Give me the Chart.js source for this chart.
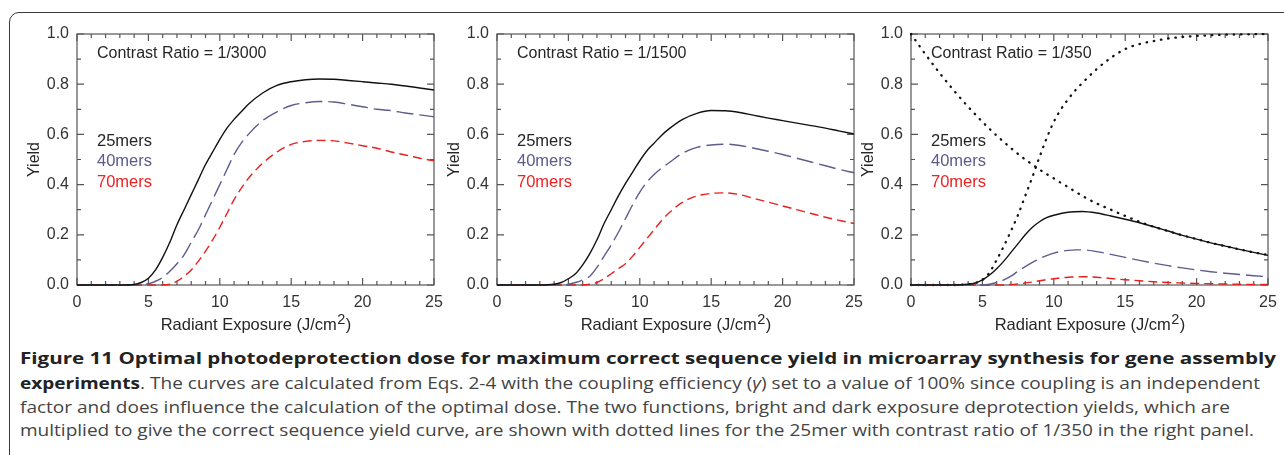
<!DOCTYPE html>
<html>
<head>
<meta charset="utf-8">
<script src="https://cdn.jsdelivr.net/npm/chart.js@4.4.1/dist/chart.umd.min.js"></script>
<style>
  body { margin: 0; background: #fff; width: 1284px; height: 455px; overflow: hidden; position: relative; }
  .frame { position: absolute; left: 9px; top: 12px; width: 1320px; height: 470px; border: 1.5px solid #3a3a3a; border-radius: 10px; }
  .panel { position: absolute; top: 22px; height: 318px; }
  .cap { position: absolute; left: 20px; white-space: nowrap; font-family: "Open Sans", "Noto Sans", sans-serif; font-size: 16px; color: #444; transform-origin: 0 50%; line-height: 20px; }
  .cap b { color: #222; }
</style>
</head>
<body>
<div class="frame"></div>
<canvas id="c1" class="panel" width="432" height="318" style="left:14px"></canvas>
<canvas id="c2" class="panel" width="432" height="318" style="left:434px"></canvas>
<canvas id="c3" class="panel" width="432" height="318" style="left:848px"></canvas>

<div class="cap" id="l1" style="top:348px"><b>Figure 11 Optimal photodeprotection dose for maximum correct sequence yield in microarray synthesis for gene assembly</b></div>
<div class="cap" id="l2" style="top:373px"><b>experiments</b>. The curves are calculated from Eqs. 2-4 with the coupling efficiency (<i>γ</i>) set to a value of 100% since coupling is an independent</div>
<div class="cap" id="l3" style="top:397px">factor and does influence the calculation of the optimal dose. The two functions, bright and dark exposure deprotection yields, which are</div>
<div class="cap" id="l4" style="top:420px">multiplied to give the correct sequence yield curve, are shown with dotted lines for the 25mer with contrast ratio of 1/350 in the right panel.</div>

<script>
// ===== Data =====
const exposure = [0, 1, 2, 3, 4, 4.5, 5, 5.5, 6, 6.5, 7, 7.5, 8, 8.5, 9, 9.5, 10, 10.5, 11, 11.5, 12,
                  13, 14, 15, 16, 17, 18, 19, 20, 21, 22, 23, 24, 25];
const xTicks = [0, 5, 10, 15, 20, 25];
const yTicks = [0, 0.2, 0.4, 0.6, 0.8, 1.0];
const seriesNames = ['25mers', '40mers', '70mers'];

// Contrast ratio 1/3000
const cr3000_25 = [0, 0, 0, 0, 0.002, 0.01, 0.027, 0.06, 0.11, 0.17, 0.24, 0.30, 0.36, 0.42, 0.48, 0.53, 0.58, 0.625, 0.66, 0.69, 0.72,
                   0.765, 0.795, 0.81, 0.818, 0.821, 0.82, 0.815, 0.81, 0.805, 0.80, 0.793, 0.785, 0.777];
const cr3000_40 = [0, 0, 0, 0, 0, 0, 0.005, 0.015, 0.03, 0.055, 0.085, 0.12, 0.17, 0.22, 0.28, 0.34, 0.40, 0.46, 0.52, 0.565, 0.60,
                   0.655, 0.69, 0.715, 0.726, 0.731, 0.729, 0.72, 0.71, 0.70, 0.695, 0.685, 0.678, 0.67];
const cr3000_70 = [0, 0, 0, 0, 0, 0, 0, 0, 0, 0.003, 0.015, 0.035, 0.06, 0.095, 0.135, 0.18, 0.23, 0.285, 0.34, 0.385, 0.425,
                   0.485, 0.53, 0.56, 0.572, 0.576, 0.574, 0.565, 0.555, 0.545, 0.53, 0.518, 0.505, 0.495];

// Contrast ratio 1/1500
const cr1500_25 = [0, 0, 0, 0, 0.003, 0.01, 0.025, 0.045, 0.08, 0.125, 0.18, 0.245, 0.30, 0.355, 0.405, 0.45, 0.495, 0.535, 0.565, 0.595, 0.62,
                   0.66, 0.684, 0.695, 0.694, 0.687, 0.676, 0.665, 0.655, 0.645, 0.635, 0.625, 0.613, 0.602];
const cr1500_40 = [0, 0, 0, 0, 0, 0, 0.003, 0.01, 0.02, 0.035, 0.07, 0.115, 0.16, 0.21, 0.265, 0.32, 0.37, 0.41, 0.44, 0.465, 0.485,
                   0.525, 0.548, 0.558, 0.561, 0.556, 0.545, 0.533, 0.52, 0.505, 0.49, 0.475, 0.46, 0.447];
const cr1500_70 = [0, 0, 0, 0, 0, 0, 0, 0, 0, 0.003, 0.01, 0.025, 0.045, 0.065, 0.085, 0.115, 0.15, 0.185, 0.22, 0.255, 0.285,
                   0.33, 0.355, 0.365, 0.367, 0.36, 0.345, 0.33, 0.315, 0.30, 0.285, 0.27, 0.257, 0.245];

// Contrast ratio 1/350
const cr350_25 = [0, 0, 0, 0, 0.003, 0.008, 0.02, 0.04, 0.065, 0.095, 0.13, 0.165, 0.20, 0.23, 0.252, 0.268, 0.278, 0.285, 0.29, 0.292, 0.293,
                  0.287, 0.275, 0.262, 0.248, 0.232, 0.215, 0.198, 0.183, 0.168, 0.155, 0.142, 0.13, 0.118];
const cr350_40 = [0, 0, 0, 0, 0, 0, 0, 0.003, 0.01, 0.02, 0.035, 0.055, 0.073, 0.09, 0.105, 0.117, 0.127, 0.134, 0.138, 0.14, 0.14,
                  0.133, 0.122, 0.11, 0.098, 0.087, 0.077, 0.068, 0.06, 0.053, 0.047, 0.042, 0.037, 0.033];
const cr350_70 = [0, 0, 0, 0, 0, 0, 0, 0, 0, 0, 0.002, 0.004, 0.008, 0.012, 0.017, 0.021, 0.025, 0.028, 0.031, 0.032, 0.033,
                  0.031, 0.026, 0.021, 0.017, 0.013, 0.01, 0.008, 0.006, 0.005, 0.004, 0.003, 0.002, 0.002];
// dotted: dark and bright exposure deprotection yields (25mer, 1/350)
const cr350_dark = [1.0, 0.92, 0.845, 0.775, 0.71, 0.68, 0.65, 0.622, 0.595, 0.57, 0.545, 0.522, 0.50, 0.48, 0.46, 0.442, 0.425, 0.407, 0.39, 0.372, 0.355,
                    0.325, 0.30, 0.275, 0.252, 0.232, 0.215, 0.198, 0.183, 0.168, 0.155, 0.142, 0.13, 0.12];
const cr350_bright = [0, 0, 0, 0, 0.003, 0.008, 0.02, 0.05, 0.10, 0.155, 0.215, 0.28, 0.355, 0.43, 0.51, 0.585, 0.65, 0.70, 0.74, 0.775, 0.805,
                      0.86, 0.905, 0.94, 0.96, 0.972, 0.982, 0.988, 0.992, 0.995, 0.997, 0.998, 0.999, 1.0];

const COLORS = ['#111111', '#5c5c8e', '#e8201e'];
const LABEL_COLORS = ['#262626', '#5a5a8c', '#ee2222'];
const DASHES = [[], [17, 6], [9, 5]];
const FONT = '"Liberation Sans", Arial, sans-serif';

function toPoints(ys) {
    return exposure.map((x, i) => ({ x: x, y: ys[i] }));
}

// frame, inward ticks and texts drawn around the plot
const framePlugin = {
    id: 'frame',
    beforeDatasetsDraw(chart) {
        const { ctx, chartArea: a, scales: { x, y } } = chart;
        ctx.save();
        ctx.strokeStyle = '#555';
        ctx.lineWidth = 1.2;
        ctx.strokeRect(a.left, a.top, a.right - a.left, a.bottom - a.top);
        ctx.beginPath();
        for (let v = 0; v <= 25; v++) {
            const px = x.getPixelForValue(v);
            const len = v % 5 === 0 ? 7 : 4;
            ctx.moveTo(px, a.bottom); ctx.lineTo(px, a.bottom - len);
            ctx.moveTo(px, a.top); ctx.lineTo(px, a.top + len);
        }
        for (let i = 0; i <= 10; i++) {
            const py = y.getPixelForValue(i / 10);
            const len = i % 2 === 0 ? 7 : 4;
            ctx.moveTo(a.left, py); ctx.lineTo(a.left + len, py);
            ctx.moveTo(a.right, py); ctx.lineTo(a.right - len, py);
        }
        ctx.stroke();
        ctx.restore();
    },
    afterDraw(chart, args, opts) {
        const { ctx, chartArea: a } = chart;
        ctx.save();
        ctx.fillStyle = '#262626';
        ctx.font = '16px ' + FONT;
        ctx.textBaseline = 'middle';
        ctx.textAlign = 'left';
        ctx.fillText(opts.ratio, a.left + 20, a.top + 20);

        seriesNames.forEach((name, i) => {
            ctx.fillStyle = LABEL_COLORS[i];
            ctx.font = '16.5px ' + FONT;
            ctx.fillText(name, a.left + 20, a.top + 107 + i * 20.5);
        });

        // y title
        ctx.fillStyle = '#262626';
        ctx.font = '16px ' + FONT;
        ctx.save();
        ctx.translate(a.left - 42, (a.top + a.bottom) / 2);
        ctx.rotate(-Math.PI / 2);
        ctx.textAlign = 'center';
        ctx.fillText('Yield', 0, 0);
        ctx.restore();

        // x title with superscript
        const main = 'Radiant Exposure (J/cm', sup = '2', tail = ')';
        ctx.font = '16.5px ' + FONT;
        const wMain = ctx.measureText(main).width, wTail = ctx.measureText(tail).width;
        ctx.font = '14.5px ' + FONT;
        const wSup = ctx.measureText(sup).width;
        let sx = (a.left + a.right) / 2 - (wMain + wSup + wTail) / 2;
        const base = a.bottom + 45;
        ctx.textBaseline = 'alphabetic';
        ctx.font = '16.5px ' + FONT;
        ctx.fillText(main, sx, base);
        ctx.font = '14.5px ' + FONT;
        ctx.fillText(sup, sx + wMain + 0.5, base - 6);
        ctx.font = '16.5px ' + FONT;
        ctx.fillText(tail, sx + wMain + wSup + 1, base);
        ctx.restore();
    }
};

function makeChart(id, ratio, s25, s40, s70, dotted) {
    const datasets = [s25, s40, s70].map((ys, i) => ({
        label: seriesNames[i],
        data: toPoints(ys),
        borderColor: COLORS[i],
        borderWidth: 1.4,
        borderDash: DASHES[i],
        pointRadius: 0,
        cubicInterpolationMode: 'monotone',
        clip: 4
    }));
    (dotted || []).forEach(ys => {
        datasets.push({
            label: 'dotted',
            data: toPoints(ys),
            borderColor: '#111',
            borderWidth: 2.3,
            borderDash: [0.5, 6.8],
            borderCapStyle: 'round',
            pointRadius: 0,
            cubicInterpolationMode: 'monotone',
            clip: 4
        });
    });

    return new Chart(document.getElementById(id), {
        type: 'line',
        data: { datasets: datasets },
        options: {
            responsive: false,
            animation: false,
            devicePixelRatio: 1,
            layout: { padding: { left: 0, right: 12, top: 12, bottom: 0 } },
            plugins: {
                legend: { display: false },
                tooltip: { enabled: false },
                frame: { ratio: ratio }
            },
            scales: {
                x: {
                    type: 'linear', min: 0, max: 25,
                    grid: { display: false, drawTicks: false },
                    border: { display: false },
                    afterBuildTicks: s => { s.ticks = xTicks.map(v => ({ value: v })); },
                    ticks: { color: '#333', font: { family: FONT, size: 16 }, padding: 8, maxRotation: 0 },
                    afterFit: s => { s.height = 55; s.paddingLeft = 0; s.paddingRight = 0; }
                },
                y: {
                    min: 0, max: 1,
                    grid: { display: false, drawTicks: false },
                    border: { display: false },
                    afterBuildTicks: s => { s.ticks = yTicks.map(v => ({ value: v })); },
                    ticks: { color: '#333', font: { family: FONT, size: 16 }, padding: 8, callback: v => v.toFixed(1) },
                    afterFit: s => { s.width = 63; s.paddingTop = 0; s.paddingBottom = 0; }
                }
            }
        },
        plugins: [framePlugin]
    });
}

makeChart('c1', 'Contrast Ratio = 1/3000', cr3000_25, cr3000_40, cr3000_70);
makeChart('c2', 'Contrast Ratio = 1/1500', cr1500_25, cr1500_40, cr1500_70);
makeChart('c3', 'Contrast Ratio = 1/350', cr350_25, cr350_40, cr350_70, [cr350_dark, cr350_bright]);

// stretch caption lines to the widths in the figure
function fitLine(id, target) {
    const el = document.getElementById(id);
    const w = el.getBoundingClientRect().width;
    el.style.transform = 'scaleX(' + (target / w) + ')';
    return target / w;
}
fitLine('l1', 1256);
const k = (fitLine('l2', 1240) + fitLine('l4', 1234)) / 2;
document.getElementById('l3').style.transform = 'scaleX(' + k + ')';
</script>
</body>
</html>
